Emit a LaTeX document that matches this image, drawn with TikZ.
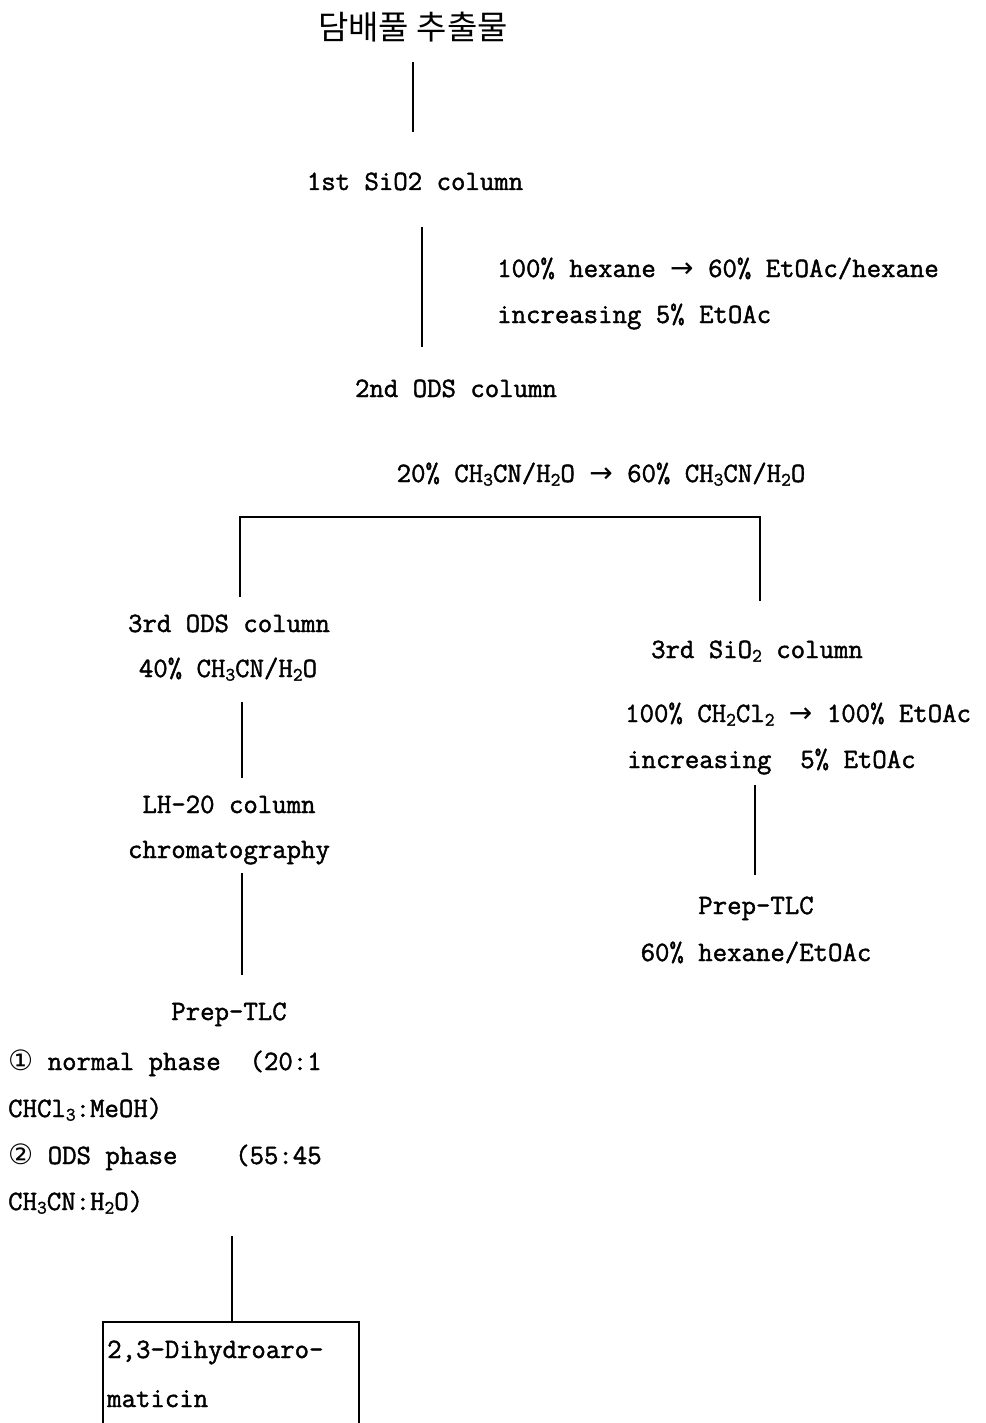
\documentclass[tikz,border=0pt]{standalone}
\usepackage{fontspec}
\setmonofont{Latin Modern Mono}[FakeBold=1.5]
\newfontfamily\krfont{Noto Sans CJK KR}
\newfontfamily\symfont{DejaVu Sans}
\newcommand{\lsub}[1]{\raisebox{-0.3ex}{\fontsize{19}{19}\selectfont #1}}
\newcommand{\rarr}{{\symfont →}}
\begin{document}
\begin{tikzpicture}[x=1pt,y=-1pt,
  txt/.style={inner sep=0pt, anchor=base, font=\ttfamily\fontsize{28}{32}\selectfont},
  ltxt/.style={txt, anchor=base west},
  conn/.style={line width=1.3pt, black}]
\useasboundingbox (0,0) rectangle (985,1423);
% nodes
\node[txt, anchor=center, font=\krfont\fontsize{33}{36}\selectfont] (title) at (413,27) {담배풀 추출물};
\node[txt] (col1) at (415,190) {1st SiO2 column};
\node[ltxt] (el1a) at (497,277) {100\% hexane \rarr{} 60\% EtOAc/hexane};
\node[ltxt] (el1b) at (497,323) {increasing 5\% EtOAc};
\node[txt] (col2) at (456,397) {2nd ODS column};
\node[txt] (el2) at (601,482) {20\% CH\lsub{3}CN/H\lsub{2}O \rarr{} 60\% CH\lsub{3}CN/H\lsub{2}O};
\node[txt] (col3a) at (229,632) {3rd ODS column};
\node[txt] (el3a) at (228,677) {40\% CH\lsub{3}CN/H\lsub{2}O};
\node[txt] (lh1) at (229,813) {LH-20 column};
\node[txt] (lh2) at (229,858) {chromatography};
\node[txt] (tlcL) at (229,1020) {Prep-TLC};
\node[ltxt] (p1a) at (8,1070) {{\symfont ①} normal phase\ \ (20:1};
\node[ltxt] (p1b) at (8,1117) {CHCl\lsub{3}:MeOH)};
\node[ltxt] (p2a) at (8,1164) {{\symfont ②} ODS phase\ \ \ \ (55:45};
\node[ltxt] (p2b) at (8,1210) {CH\lsub{3}CN:H\lsub{2}O)};
\node[ltxt] (res1) at (107,1358) {2,3-Dihydroaro-};
\node[ltxt] (res2) at (107,1407) {maticin};
\node[txt] (col3b) at (757,658) {3rd SiO\lsub{2} column};
\node[ltxt] (el3b) at (625,722) {100\% CH\lsub{2}Cl\lsub{2} \rarr{} 100\% EtOAc};
\node[ltxt] (el3c) at (627,768) {increasing\ \ 5\% EtOAc};
\node[txt] (tlcR) at (756,914) {Prep-TLC};
\node[txt] (tlcR2) at (756,961) {60\% hexane/EtOAc};
% connector end points
\coordinate (a1) at (413,62);   \coordinate (a2) at (413,132);
\coordinate (b1) at (422,227);  \coordinate (b2) at (422,347);
\coordinate (c1) at (240,597);  \coordinate (c2) at (240,517);
\coordinate (c3) at (760,517);  \coordinate (c4) at (760,601);
\coordinate (d1) at (242,702);  \coordinate (d2) at (242,778);
\coordinate (e1) at (242,873);  \coordinate (e2) at (242,975);
\coordinate (f1) at (755,785);  \coordinate (f2) at (755,875);
\coordinate (g1) at (232,1236); \coordinate (g2) at (232,1322);
\coordinate (h1) at (103,1423); \coordinate (h2) at (103,1322);
\coordinate (h3) at (359,1322); \coordinate (h4) at (359,1423);
% connectors
\draw[conn] (a1) -- (a2);
\draw[conn] (b1) -- (b2);
\draw[conn] (c1) -- (c2) -- (c3) -- (c4);
\draw[conn] (d1) -- (d2);
\draw[conn] (e1) -- (e2);
\draw[conn] (f1) -- (f2);
\draw[conn] (g1) -- (g2);
\draw[conn] (h1) -- (h2) -- (h3) -- (h4);
\end{tikzpicture}
\end{document}
